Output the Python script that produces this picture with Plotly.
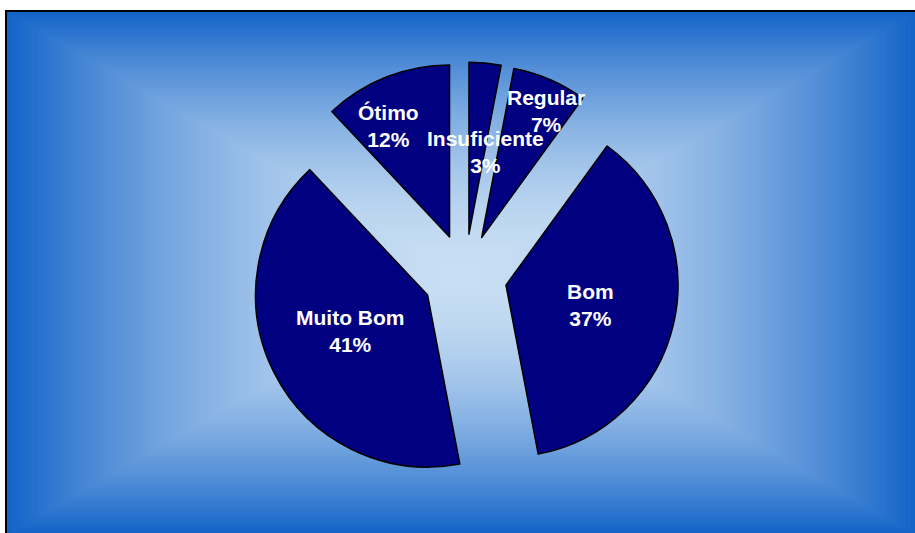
import math
import plotly.graph_objects as go

# --- Data ---
labels = ['Insuficiente', 'Regular', 'Bom', 'Muito Bom', 'Ótimo']
values = [3, 7, 37, 41, 12]

# --- Style / layout configuration ---
SLICE_COLOR = '#000080'
EDGE_COLOR = (20, 100, 200)
CENTER_COLOR = (200, 222, 243)
PULL = 0.244
LABEL_DIST = [0.73, 1.07, 0.75, 0.74, 0.98]     # label distance, fraction of radius
LABEL_NUDGE = [3.8, 2.7, 0.4, 1.6, -5.4]        # degrees added to the bisector

FIG_W, FIG_H = 915, 533
L, R, T, B = 60, 45, 62, 43
W, H = FIG_W - L - R, FIG_H - T - B


def px_to_paper(px, py):
    return (px - L) / W, 1 - (py - T) / H


fig = go.Figure(go.Pie(
    labels=labels, values=values, sort=False, direction='clockwise', rotation=0,
    pull=PULL, textinfo='none', showlegend=False,
    marker=dict(colors=[SLICE_COLOR] * len(values), line=dict(color='black', width=1.5)),
))

# Background: rectangular gradient from the centre out (nested rectangles)
fx0, fy0, fx1, fy1 = 7, 12, 916, 534
gcx, gcy = (fx0 + fx1) / 2, (fy0 + fy1) / 2
N = 90
for i in range(N):
    s = 1 - i / N
    t = s ** 1.8
    col = tuple(round(c + (e - c) * t) for c, e in zip(CENTER_COLOR, EDGE_COLOR))
    x0, y0 = px_to_paper(gcx - s * (gcx - fx0), gcy - s * (gcy - fy0))
    x1, y1 = px_to_paper(gcx + s * (fx1 - gcx), gcy + s * (fy1 - gcy))
    fig.add_shape(type='rect', xref='paper', yref='paper', x0=x0, y0=y1, x1=x1, y1=y0,
                  fillcolor='rgb(%d,%d,%d)' % col, line_width=0, layer='below')

bx0, by0 = px_to_paper(6, 11)
bx1, by1 = px_to_paper(921, 539)
fig.add_shape(type='rect', xref='paper', yref='paper', x0=bx0, y0=by1, x1=bx1, y1=by0,
              line=dict(color='black', width=2), fillcolor='rgba(0,0,0,0)', layer='below')

# Labels placed along each slice's bisector
cx, cy = L + W / 2, T + H / 2
radius = min(W, H) / 2 / (1 + PULL)
total = sum(values)
cum = 0
for lab, v, frac, nudge in zip(labels, values, LABEL_DIST, LABEL_NUDGE):
    mid = (cum + v / 2) / total * 360 + nudge
    cum += v
    a = math.radians(mid)
    lx = cx + frac * radius * math.sin(a)
    ly = cy - frac * radius * math.cos(a)
    xp, yp = px_to_paper(lx, ly)
    fig.add_annotation(x=xp, y=yp, xref='paper', yref='paper', showarrow=False,
                       text='<b>%s<br>%d%%</b>' % (lab, round(v / total * 100)),
                       font=dict(family='Arial', size=21, color='white'),
                       xanchor='center', yanchor='middle')

fig.update_layout(
    width=FIG_W, height=FIG_H,
    margin=dict(l=L, r=R, t=T, b=B),
    paper_bgcolor='white', plot_bgcolor='rgba(0,0,0,0)',
)

# drop the default page margin so the figure sits at the window's corner
fig.write_html("out.html", config={'displayModeBar': False},
               post_script="document.body.style.margin = '0';")
